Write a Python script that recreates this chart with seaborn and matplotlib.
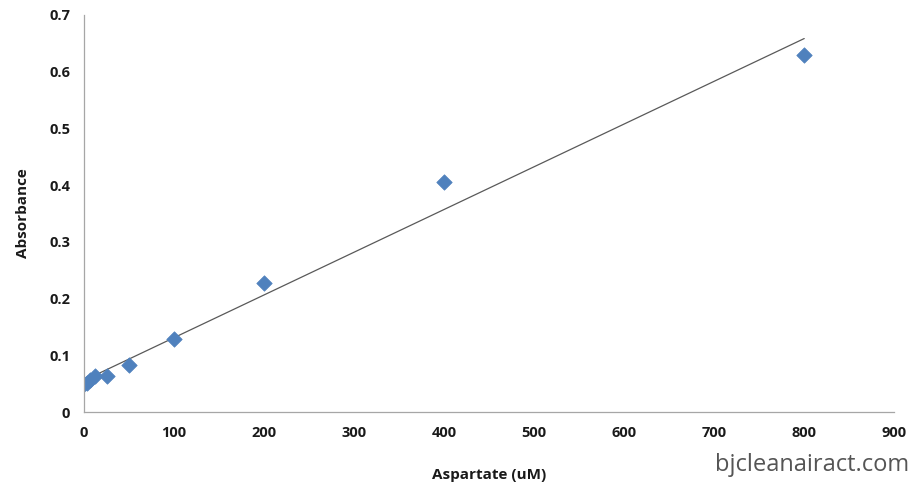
import numpy as np
import pandas as pd
import matplotlib
matplotlib.use("Agg")
import matplotlib.pyplot as plt
import seaborn as sns

# standard curve readings
aspartate_um = [0, 3.125, 6.25, 12.5, 25, 50, 100, 200, 400, 800]
absorbance = [0.050, 0.052, 0.056, 0.064, 0.063, 0.083, 0.128, 0.228, 0.406, 0.630]
x_ticks = [0, 100, 200, 300, 400, 500, 600, 700, 800, 900]
y_ticks = [0, 0.1, 0.2, 0.3, 0.4, 0.5, 0.6, 0.7]

df = pd.DataFrame({"Aspartate (uM)": aspartate_um, "Absorbance": absorbance})

sns.set_style("white")
plt.rcParams["font.family"] = ["Open Sans", "DejaVu Sans"]

fig = plt.figure(figsize=(9.2, 4.92), dpi=100)
ax = fig.add_axes([0.0913, 0.1626, 0.8807, 0.807])

# linear trendline (least squares, like the spreadsheet one)
slope, intercept = np.polyfit(aspartate_um, absorbance, 1)
fit_x = np.array([min(aspartate_um), max(aspartate_um)])
ax.plot(fit_x, slope * fit_x + intercept, color="#595959", lw=0.9, zorder=1)

sns.scatterplot(data=df, x="Aspartate (uM)", y="Absorbance", ax=ax,
                marker="D", s=62, color="#4F81BD", edgecolor="#4F81BD",
                linewidth=0.5, zorder=2)

ax.set_xlim(0, 900)
ax.set_ylim(0, 0.7)
ax.set_xticks(x_ticks)
ax.set_yticks(y_ticks)
ax.set_xticklabels([str(t) for t in x_ticks])
ax.set_yticklabels(["0" if t == 0 else f"{t:.1f}" for t in y_ticks])

for side in ["top", "right"]:
    ax.spines[side].set_visible(False)
for side in ["left", "bottom"]:
    ax.spines[side].set_color("#A6A6A6")
    ax.spines[side].set_linewidth(0.9)

ax.tick_params(axis="both", which="major", direction="out", length=4,
               width=0.8, color="#A6A6A6", labelsize=10.5, labelcolor="#1a1a1a",
               pad=6)
for lbl in ax.get_xticklabels() + ax.get_yticklabels():
    lbl.set_fontweight("bold")

ax.set_xlabel("Aspartate (uM)", fontsize=11, fontweight="bold",
              color="#1a1a1a", labelpad=20)
ax.set_ylabel("Absorbance", fontsize=11, fontweight="bold",
              color="#1a1a1a", labelpad=14)

fig.text(0.988, 0.03, "bjcleanairact.com", ha="right", va="bottom",
         fontsize=17, color="#555555")

fig.savefig("out.png", dpi=100)
